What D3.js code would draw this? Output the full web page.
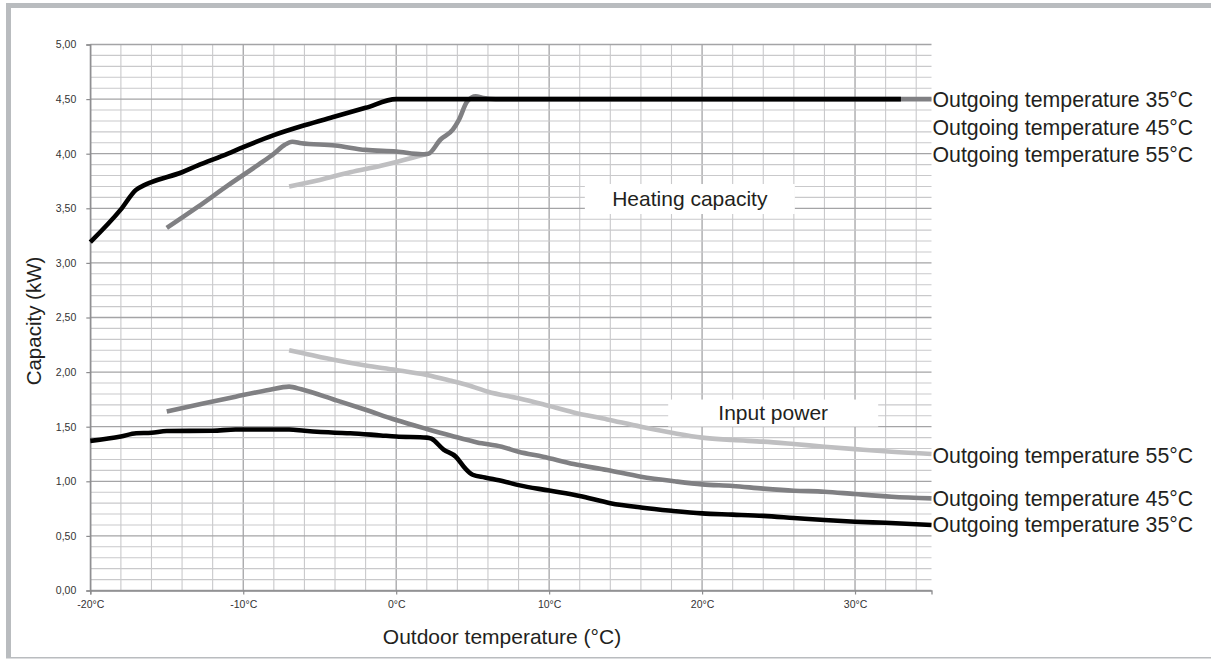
<!DOCTYPE html>
<html>
<head>
<meta charset="utf-8">
<script src="https://cdn.jsdelivr.net/npm/d3@7/dist/d3.min.js"></script>
<style>
  html, body { margin: 0; padding: 0; background: #fff; }
  svg { display: block; }
</style>
</head>
<body>
<svg id="chart" width="1211" height="660"></svg>
<script>
// ---------- data ----------
const xTickValues = [-20, -10, 0, 10, 20, 30];
const yTickValues = [0, 0.5, 1, 1.5, 2, 2.5, 3, 3.5, 4, 4.5, 5];

// Heating capacity
const heat35T = [-20, -18, -17, -16.5, -16, -14, -13, -11, -10, -8, -6, -4, -2, 0, 33];
const heat35V = [3.19, 3.49, 3.67, 3.71, 3.74, 3.83, 3.89, 4.00, 4.06, 4.17, 4.26, 4.34, 4.42, 4.50, 4.50];

const heat45T = [-15, -13, -11, -9, -8, -7.3, -6.8, -6.2, -4, -2, 0, 1.7, 2.1, 2.9, 3.7, 4.1, 4.65, 5.2, 5.7, 6.5, 35];
const heat45V = [3.32, 3.51, 3.71, 3.90, 4.00, 4.08, 4.11, 4.095, 4.075, 4.035, 4.02, 3.995, 4.00, 4.13, 4.22, 4.31, 4.48, 4.525, 4.51, 4.50, 4.50];

const heat55T = [-7, -5, -3, -1, 1, 2];
const heat55V = [3.70, 3.76, 3.83, 3.89, 3.96, 4.00];

// Input power
const pow35T = [-20, -18, -17, -16, -15, -12, -10.5, -7, -6, -4, -3, -1, 0, 2, 2.3, 3.1, 3.9, 4.5, 5, 5.8, 7, 8, 10, 12, 14, 16, 18, 20, 22, 24, 26, 28, 30, 32, 35];
const pow35V = [1.37, 1.41, 1.44, 1.445, 1.46, 1.463, 1.475, 1.475, 1.463, 1.445, 1.44, 1.42, 1.41, 1.40, 1.39, 1.29, 1.225, 1.12, 1.06, 1.035, 1.0, 0.965, 0.915, 0.865, 0.80, 0.76, 0.73, 0.706, 0.695, 0.683, 0.664, 0.645, 0.63, 0.62, 0.60];

const pow45T = [-15, -12.7, -10.5, -8.35, -7, -6.2, -4, -2, 0, 2, 3.6, 5.3, 6.9, 8, 9.6, 11.6, 13.8, 16, 18.2, 20, 22, 24, 26, 28, 30, 32.4, 35];
const pow45V = [1.64, 1.71, 1.775, 1.836, 1.867, 1.842, 1.745, 1.655, 1.561, 1.479, 1.417, 1.356, 1.317, 1.27, 1.225, 1.158, 1.103, 1.042, 1.0, 0.972, 0.957, 0.933, 0.914, 0.905, 0.883, 0.859, 0.844];

const pow55T = [-7, -6, -4, -2, 0, 2, 3.6, 4.7, 6, 8, 9.6, 11.6, 13.8, 16, 18.2, 20, 22, 24, 26, 28, 30, 32.4, 35];
const pow55V = [2.20, 2.17, 2.11, 2.06, 2.02, 1.974, 1.92, 1.88, 1.82, 1.76, 1.705, 1.631, 1.567, 1.50, 1.44, 1.40, 1.378, 1.363, 1.341, 1.317, 1.295, 1.27, 1.25];

const seriesLabels = ["Outgoing temperature 35°C", "Outgoing temperature 45°C", "Outgoing temperature 55°C"];
const heatLabelValues = [4.50, 4.245, 3.99];
const powLabelValues = [0.61, 0.847, 1.241];

const groupTitles = ["Heating capacity", "Input power"];
const xTitle = "Outdoor temperature (°C)";
const yTitle = "Capacity (kW)";

// ---------- drawing ----------
const svg = d3.select("#chart");
const W = 1211, H = 660;

// frame
const frameCol = "#b9bcbf";
svg.append("rect").attr("x", 6).attr("y", 3).attr("width", W - 6).attr("height", 5).attr("fill", frameCol);
svg.append("rect").attr("x", 6).attr("y", 3).attr("width", 5).attr("height", 655).attr("fill", frameCol);
svg.append("rect").attr("x", 6).attr("y", 657).attr("width", W - 6).attr("height", 1.5).attr("fill", frameCol);

const x = d3.scaleLinear().domain([-20, 35]).range([90.3, 931.5]);
const y = d3.scaleLinear().domain([0, 5]).range([590.5, 44.5]);

// grid
const grid = svg.append("g");
const vLines = d3.range(-20, 35, 2);
grid.selectAll("line.v").data(vLines).enter().append("line")
  .attr("x1", d => x(d)).attr("x2", d => x(d))
  .attr("y1", y(0)).attr("y2", y(5))
  .attr("stroke", d => d % 10 === 0 ? "#a4a4a6" : "#c9c9cb")
  .attr("stroke-width", d => d % 10 === 0 ? 1.3 : 1.1);
const hLines = d3.range(0, 51).map(i => i / 10);
grid.selectAll("line.h").data(hLines).enter().append("line")
  .attr("x1", x(-20)).attr("x2", x(35))
  .attr("y1", d => y(d)).attr("y2", d => y(d))
  .attr("stroke", (d, i) => i % 5 === 0 ? "#a4a4a6" : "#c9c9cb")
  .attr("stroke-width", (d, i) => i % 5 === 0 ? 1.3 : 1.1);

// axes
const fmtY = d => d3.format(".2f")(d).replace(".", ",");
const yAxis = svg.append("g").attr("transform", `translate(${x(-20)},0)`)
  .call(d3.axisLeft(y).tickValues(yTickValues).tickFormat(fmtY).tickSize(4).tickPadding(10));
const xAxis = svg.append("g").attr("transform", `translate(0,${y(0)})`)
  .call(d3.axisBottom(x).tickValues(xTickValues).tickFormat(d => d + "°C").tickSize(4).tickPadding(6));
[yAxis, xAxis].forEach(a => {
  a.select(".domain").attr("stroke", "#8c8c8e").attr("stroke-width", 1.3);
  a.selectAll(".tick line").attr("stroke", "#8c8c8e").attr("stroke-width", 1.2);
  a.selectAll(".tick text").attr("fill", "#333333")
    .style("font-family", "'Liberation Sans', Arial, sans-serif").style("font-size", "10.5px");
});

// annotation boxes
const boxes = [
  { t: groupTitles[0], cx: x(19.2), cy: y(3.585), w: 210, h: 30 },
  { t: groupTitles[1], cx: x(24.65), cy: y(1.625), w: 210, h: 27 }
];
const lblFont = "'Liberation Sans', Arial, sans-serif";
boxes.forEach(b => {
  svg.append("rect").attr("x", b.cx - b.w / 2).attr("y", b.cy - b.h / 2)
    .attr("width", b.w).attr("height", b.h).attr("fill", "#fff");
  svg.append("text").attr("x", b.cx).attr("y", b.cy).attr("dy", "0.35em")
    .attr("text-anchor", "middle").attr("fill", "#231f20")
    .style("font-family", lblFont).style("font-size", "21px")
    .text(b.t);
});

// lines
const line = d3.line().x(d => x(d[0])).y(d => y(d[1])).curve(d3.curveMonotoneX);
const zip = (a, b) => a.map((v, i) => [v, b[i]]);
const series = [
  { d: zip(heat55T, heat55V), c: "#bfbfc1" },
  { d: zip(pow55T, pow55V), c: "#bfbfc1" },
  { d: zip(heat45T, heat45V), c: "#808083" },
  { d: zip(pow45T, pow45V), c: "#808083" },
  { d: zip(heat35T, heat35V), c: "#000000" },
  { d: zip(pow35T, pow35V), c: "#000000" }
];
series.forEach(s => {
  svg.append("path").datum(s.d).attr("d", line)
    .attr("fill", "none").attr("stroke", s.c).attr("stroke-width", 4.6)
    .attr("stroke-linejoin", "round").attr("stroke-linecap", "butt");
});

// right labels
const addLbl = (txt, v) => svg.append("text").attr("x", x(35) + 1).attr("y", y(v)).attr("dy", "0.36em")
  .attr("fill", "#231f20").style("font-family", lblFont).style("font-size", "21.3px").text(txt);
seriesLabels.forEach((t, i) => addLbl(t, heatLabelValues[i]));
seriesLabels.forEach((t, i) => addLbl(t, powLabelValues[i]));

// axis titles
svg.append("text").attr("x", 502).attr("y", 637).attr("dy", "0.35em").attr("text-anchor", "middle")
  .attr("fill", "#231f20").style("font-family", lblFont).style("font-size", "21px").text(xTitle);
svg.append("text").attr("transform", "translate(34,321) rotate(-90)").attr("dy", "0.35em")
  .attr("text-anchor", "middle").attr("fill", "#231f20")
  .style("font-family", lblFont).style("font-size", "20.5px").text(yTitle);
</script>
</body>
</html>
